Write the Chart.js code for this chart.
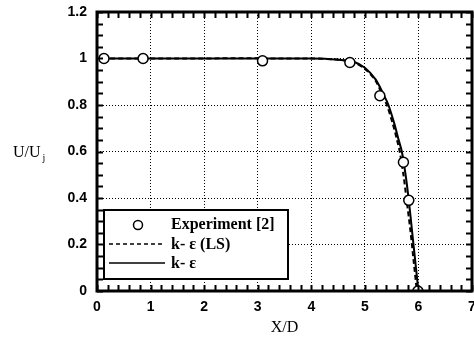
<!DOCTYPE html>
<html>
<head>
<meta charset="utf-8">
<script src="https://cdn.jsdelivr.net/npm/chart.js@4"></script>
<style>
html, body { margin: 0; padding: 0; background: #fff; overflow: hidden; }
</style>
</head>
<body>
<canvas id="chart" width="482" height="339"></canvas>
<script>
// experiment [2]
const expX = [0.13, 0.86, 3.09, 4.72, 5.28, 5.72, 5.82, 5.99];
const expY = [1.0, 1.0, 0.99, 0.983, 0.84, 0.554, 0.39, 0.0];
// k-e (LS)
const lsX = [0.1, 4.0, 4.5, 4.8, 5.0, 5.2, 5.33, 5.41, 5.52, 5.6, 5.65, 5.72, 5.78, 5.85, 5.91, 5.97];
const lsY = [1.0, 1.0, 0.995, 0.982, 0.955, 0.905, 0.84, 0.8, 0.72, 0.65, 0.6, 0.5, 0.39, 0.26, 0.13, 0.0];
// k-e
const keX = [0.1, 4.0, 4.5, 4.8, 5.0, 5.2, 5.36, 5.44, 5.55, 5.63, 5.69, 5.76, 5.82, 5.88, 5.94, 6.0];
const keY = [1.0, 1.0, 0.995, 0.985, 0.96, 0.91, 0.84, 0.8, 0.72, 0.65, 0.6, 0.5, 0.39, 0.26, 0.13, 0.0];

const xMin = 0, xMax = 7, xStep = 1, xMinor = 0.2;
const yMin = 0, yMax = 1.2, yStep = 0.2, yMinor = 0.05;

function pts(xs, ys) {
    return xs.map((x, i) => ({x: x, y: ys[i]}));
}

const tickFont = {family: 'Liberation Sans', size: 14, weight: 'bold'};

// frame + inward minor ticks, legend box, y title
const framePlugin = {
    id: 'frame',
    afterDatasetsDraw(chart) {
        const c = chart.ctx, a = chart.chartArea;
        const xs = chart.scales.x, ys = chart.scales.y;
        c.save();
        c.strokeStyle = '#000';
        c.lineWidth = 2;
        c.beginPath();
        for (let v = xMin; v <= xMax + 1e-9; v += xMinor) {
            const p = Math.round(xs.getPixelForValue(v)) + 0.5;
            c.moveTo(p, a.bottom); c.lineTo(p, a.bottom - 6);
            c.moveTo(p, a.top); c.lineTo(p, a.top + 6);
        }
        for (let v = yMin; v <= yMax + 1e-9; v += yMinor) {
            const p = Math.round(ys.getPixelForValue(v)) + 0.5;
            c.moveTo(a.left, p); c.lineTo(a.left + 6, p);
            c.moveTo(a.right, p); c.lineTo(a.right - 6, p);
        }
        c.stroke();
        c.lineWidth = 3;
        c.strokeRect(a.left, a.top, a.right - a.left, a.bottom - a.top);

        // legend box
        const lx = 104, ly = 210, lw = 184, lh = 69;
        c.fillStyle = '#fff';
        c.fillRect(lx, ly, lw, lh);
        c.lineWidth = 2;
        c.strokeRect(lx, ly, lw, lh);
        c.lineWidth = 1.5;
        c.beginPath();
        c.arc(138, 225, 4.5, 0, Math.PI * 2);
        c.stroke();
        c.setLineDash([4, 3]);
        c.beginPath(); c.moveTo(109, 244); c.lineTo(165, 244); c.stroke();
        c.setLineDash([]);
        c.beginPath(); c.moveTo(109, 263); c.lineTo(165, 263); c.stroke();
        c.fillStyle = '#000';
        c.font = 'bold 16px "Liberation Serif"';
        c.textBaseline = 'alphabetic';
        c.textAlign = 'left';
        c.fillText('Experiment [2]', 171, 229);
        c.fillText('k- \u03b5 (LS)', 171, 249);
        c.fillText('k- \u03b5', 171, 268);

        // y title
        c.font = '16px "Liberation Serif"';
        c.fillText('U/U', 13, 157);
        const w = c.measureText('U/U').width;
        c.font = '10px "Liberation Serif"';
        c.fillText('j', 13 + w + 2, 161);
        c.restore();
    }
};

const ctx = document.getElementById('chart').getContext('2d');
const myChart = new Chart(ctx, {
    type: 'scatter',
    data: {
        datasets: [{
            label: 'k- \u03b5',
            data: pts(keX, keY),
            showLine: true,
            borderColor: '#000',
            borderWidth: 2,
            pointRadius: 0,
            tension: 0.3,
            order: 3
        }, {
            label: 'k- \u03b5 (LS)',
            data: pts(lsX, lsY),
            showLine: true,
            borderColor: '#000',
            borderWidth: 2,
            borderDash: [5, 3],
            pointRadius: 0,
            tension: 0.3,
            order: 2
        }, {
            label: 'Experiment [2]',
            data: pts(expX, expY),
            showLine: false,
            pointRadius: 5,
            pointBackgroundColor: '#fff',
            pointBorderColor: '#000',
            pointBorderWidth: 1.5,
            order: 1
        }]
    },
    options: {
        responsive: false,
        animation: false,
        layout: {padding: {top: 12, right: 10, left: 0, bottom: 0}},
        plugins: {
            legend: {display: false},
            tooltip: {enabled: false}
        },
        scales: {
            x: {
                type: 'linear',
                min: xMin, max: xMax,
                ticks: {stepSize: xStep, color: '#000', font: tickFont, padding: 8, maxRotation: 0},
                grid: {color: '#000', lineWidth: 1, drawTicks: false},
                border: {display: false, dash: [1, 2]},
                title: {display: true, text: 'X/D', color: '#000',
                        font: {family: 'Liberation Serif', size: 16}, padding: {top: 0, bottom: 2}},
                afterFit(s) { s.height = 48; s.paddingLeft = 0; s.paddingRight = 0; }
            },
            y: {
                type: 'linear',
                min: yMin, max: yMax,
                ticks: {stepSize: yStep, color: '#000', font: tickFont, padding: 10,
                        callback: v => String(parseFloat(v.toFixed(1)))},
                grid: {color: '#000', lineWidth: 1, drawTicks: false},
                border: {display: false, dash: [1, 2]},
                afterFit(s) { s.width = 97; s.paddingTop = 0; s.paddingBottom = 0; }
            }
        }
    },
    plugins: [framePlugin]
});
</script>
</body>
</html>
